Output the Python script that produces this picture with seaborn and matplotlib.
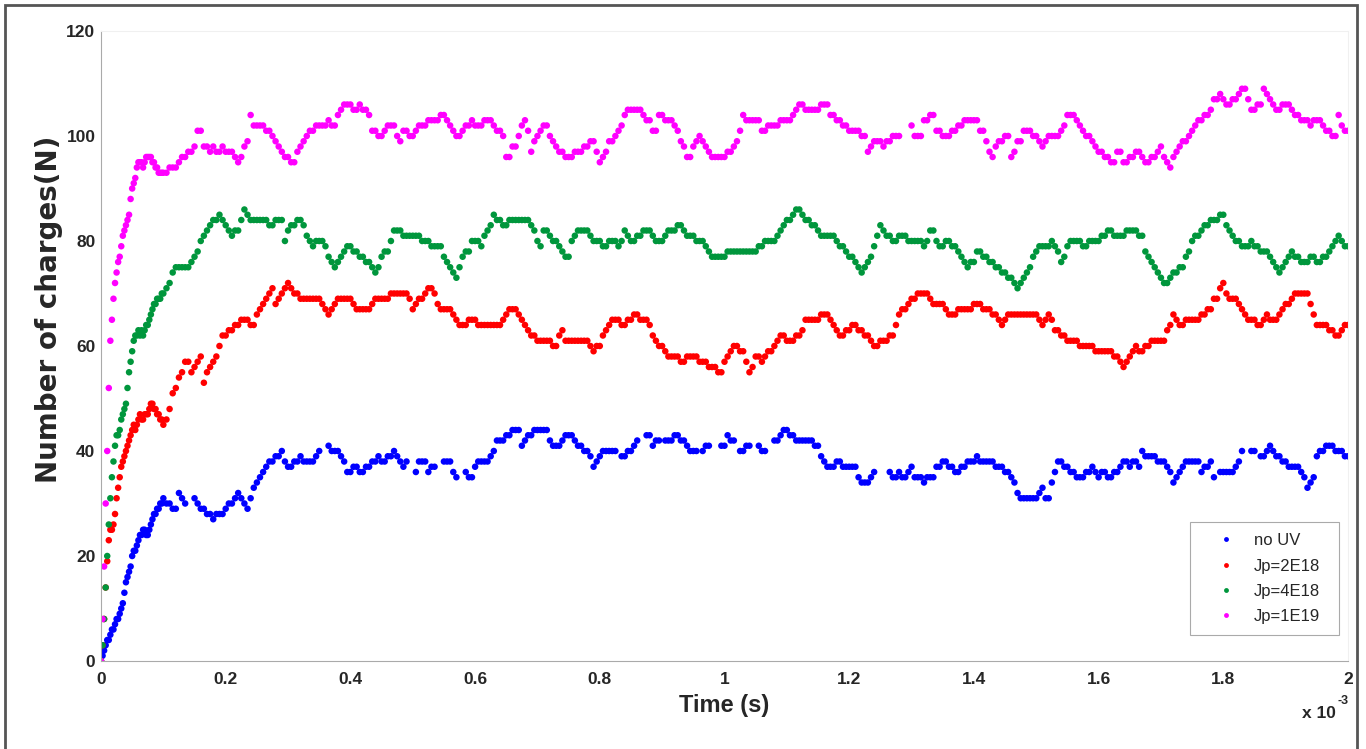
import numpy as np
import pandas as pd
import matplotlib
matplotlib.use("Agg")
import matplotlib.pyplot as plt
from matplotlib.patches import Rectangle
from matplotlib.lines import Line2D
import seaborn as sns

nan = np.nan

# time grid in ms: 0.0025 ms steps during the first rise, then 0.005 ms
time_ms = np.r_[np.arange(40) * 0.0025, 0.1 + np.arange(381) * 0.005]

# values (nan = no dot there)
no_uv = [
    # 0 - 0.0975 ms
    0, 1, 2, 3, 4, 4, 5, 6, 6, 7,
    8, 8, 9, 10, 11, 13, 15, 16, 17, 18,
    20, 21, 21, 22, 23, 24, 24, 25, 25, 24,
    24, 25, 26, 27, 28, 28, 29, 29, 30, 30,
    # 0.1 - 2.0 ms
    31, 30, 30, 29, 29, 32, 31, 30, nan, nan,
    31, 30, 29, 29, 28, 28, 27, 28, 28, 28,
    29, 30, 30, 31, 32, 31, 30, 29, 31, 33,
    34, 35, 36, 37, 38, 38, 39, 39, 40, 38,
    37, 37, 38, 38, 39, 38, 38, 38, 38, 39,
    40, nan, nan, 41, 40, 40, 40, 39, 38, 36,
    36, 37, 37, 36, 36, 37, 37, 38, 38, 39,
    38, 38, 39, 39, 40, 39, 38, 37, 38, nan,
    nan, 36, 38, 38, 38, 36, 37, 37, nan, nan,
    38, 38, 38, 36, 35, nan, nan, 36, 35, 35,
    37, 38, 38, 38, 38, 39, 40, 42, 42, 42,
    43, 43, 44, 44, 44, 41, 42, 43, 43, 44,
    44, 44, 44, 44, 42, 41, 41, 41, 42, 43,
    43, 43, 42, 41, 41, 40, 40, 39, 37, 38,
    39, 40, 40, 40, 40, 40, nan, 39, 39, 40,
    40, 41, 42, nan, nan, 43, 43, 41, 42, 42,
    nan, 42, 42, 42, 43, 43, 42, 42, 41, 40,
    40, 40, nan, 40, 41, 41, nan, nan, nan, 41,
    41, 43, 42, 42, nan, 40, 40, 41, 41, nan,
    nan, 41, 40, 40, nan, nan, 42, 42, 43, 44,
    44, 43, 43, 42, 42, 42, 42, 42, 42, 41,
    41, 39, 38, 37, 37, 37, 38, 38, 37, 37,
    37, 37, 37, 35, 34, 34, 34, 35, 36, nan,
    nan, nan, nan, 36, 35, 35, 36, 35, 35, 36,
    37, 35, 35, 35, 34, 35, 35, 35, 37, 37,
    38, 38, 37, 37, 36, 36, 37, 37, 38, 38,
    38, 39, 38, 38, 38, 38, 38, 37, 37, 37,
    36, 36, 35, 34, 32, 31, 31, 31, 31, 31,
    31, 32, 33, 31, 31, 34, 36, 38, 38, 37,
    37, 36, 36, 35, 35, 35, 36, 36, 37, 36,
    35, 36, 36, 35, 35, 36, 36, 37, 38, 38,
    37, 38, 38, 37, 40, 39, 39, 39, 39, 38,
    38, 38, 37, 36, 34, 35, 36, 37, 38, 38,
    38, 38, 38, 36, 37, 37, 38, 35, nan, 36,
    36, 36, 36, 36, 37, 38, 40, nan, nan, 40,
    40, nan, 39, 39, 40, 41, 40, 39, 39, 38,
    38, 37, 37, 37, 37, 36, 35, 33, 34, 35,
    39, 40, 40, 41, 41, 41, 40, 40, 40, 39,
    39,
]
jp_2e18 = [
    0, 3, 8, 14, 19, 23, 25, 25, 26, 28,
    31, 33, 35, 37, 38, 39, 40, 41, 42, 43,
    44, 45, 44, 45, 46, 47, 46, 46, 47, 47,
    47, 48, 49, 49, 48, 48, 47, 47, 46, 46,
    45, 46, 48, 51, 52, 54, 55, 57, 57, 55,
    56, 57, 58, 53, 55, 56, 57, 58, 60, 62,
    62, 63, 63, 64, 64, 65, 65, 65, 64, 64,
    66, 67, 68, 69, 70, 71, 68, 69, 70, 71,
    72, 71, 70, 70, 69, 69, 69, 69, 69, 69,
    69, 68, 67, 66, 67, 68, 69, 69, 69, 69,
    69, 68, 67, 67, 67, 67, 67, 68, 69, 69,
    69, 69, 69, 70, 70, 70, 70, 70, 70, 69,
    67, 68, 69, 69, 70, 71, 71, 70, 68, 67,
    67, 67, 67, 66, 65, 64, 64, 64, 65, 65,
    65, 64, 64, 64, 64, 64, 64, 64, 64, 65,
    66, 67, 67, 67, 66, 65, 64, 63, 62, 62,
    61, 61, 61, 61, 61, 60, 60, 62, 63, 61,
    61, 61, 61, 61, 61, 61, 61, 60, 59, 60,
    60, 62, 63, 64, 65, 65, 65, 64, 64, 65,
    65, 66, 66, 65, 65, 65, 64, 62, 61, 60,
    60, 59, 58, 58, 58, 58, 57, 57, 58, 58,
    58, 58, 57, 57, 57, 56, 56, 56, 55, 55,
    57, 58, 59, 60, 60, 59, 59, 57, 55, 56,
    58, 58, 57, 58, 59, 59, 60, 61, 62, 62,
    61, 61, 61, 62, 62, 63, 65, 65, 65, 65,
    65, 66, 66, 66, 65, 64, 63, 62, 62, 63,
    63, 64, 64, 63, 63, 62, 62, 61, 60, 60,
    61, 61, 61, 62, 62, 64, 66, 67, 67, 68,
    69, 69, 70, 70, 70, 70, 69, 68, 68, 68,
    68, 67, 66, 66, 66, 67, 67, 67, 67, 67,
    68, 68, 68, 67, 67, 67, 66, 66, 65, 64,
    65, 66, 66, 66, 66, 66, 66, 66, 66, 66,
    66, 65, 64, 65, 66, 65, 63, 63, 62, 62,
    61, 61, 61, 61, 60, 60, 60, 60, 60, 59,
    59, 59, 59, 59, 59, 58, 58, 57, 56, 57,
    58, 59, 60, 59, 59, 60, 60, 61, 61, 61,
    61, 61, 63, 64, 66, 65, 64, 64, 65, 65,
    65, 65, 65, 66, 66, 67, 67, 69, 69, 71,
    72, 70, 69, 69, 69, 68, 67, 66, 65, 65,
    65, 64, 64, 65, 66, 65, 65, 65, 66, 67,
    68, 68, 69, 70, 70, 70, 70, 70, 68, 66,
    64, 64, 64, 64, 63, 63, 62, 62, 63, 64,
    64,
]
jp_4e18 = [
    0, 3, 8, 14, 20, 26, 31, 35, 38, 41,
    43, 43, 44, 46, 47, 48, 49, 52, 55, 57,
    59, 61, 62, 62, 63, 62, 63, 62, 63, 64,
    64, 65, 66, 67, 68, 68, 69, 69, 69, 70,
    70, 71, 72, 74, 75, 75, 75, 75, 75, 76,
    77, 78, 80, 81, 82, 83, 84, 84, 85, 84,
    83, 82, 81, 82, 82, 84, 86, 85, 84, 84,
    84, 84, 84, 84, 83, 83, 84, 84, 84, 80,
    82, 83, 83, 84, 84, 83, 81, 80, 79, 80,
    80, 80, 79, 77, 76, 75, 76, 77, 78, 79,
    79, 78, 78, 77, 77, 76, 76, 75, 74, 75,
    77, 78, 78, 80, 82, 82, 82, 81, 81, 81,
    81, 81, 81, 80, 80, 80, 79, 79, 79, 79,
    77, 76, 75, 74, 73, 75, 77, 78, 78, 80,
    80, 80, 79, 81, 82, 83, 85, 84, 84, 83,
    83, 84, 84, 84, 84, 84, 84, 84, 83, 82,
    80, 79, 82, 82, 81, 80, 80, 79, 78, 77,
    77, 80, 81, 82, 82, 82, 82, 81, 80, 80,
    80, 79, 79, 80, 80, 80, 79, 80, 82, 81,
    80, 80, 81, 81, 82, 82, 82, 81, 80, 80,
    80, 81, 82, 82, 82, 83, 83, 82, 81, 81,
    81, 80, 80, 80, 79, 78, 77, 77, 77, 77,
    77, 78, 78, 78, 78, 78, 78, 78, 78, 78,
    78, 79, 79, 80, 80, 80, 80, 81, 82, 83,
    84, 84, 85, 86, 86, 85, 84, 84, 83, 83,
    82, 81, 81, 81, 81, 81, 80, 79, 79, 78,
    77, 77, 76, 75, 74, 75, 76, 77, 79, 81,
    83, 82, 81, 81, 80, 80, 81, 81, 81, 80,
    80, 80, 80, 80, 79, 80, 82, 82, 80, 79,
    79, 80, 80, 79, 79, 78, 77, 76, 75, 76,
    76, 78, 78, 77, 77, 76, 76, 75, 75, 74,
    74, 73, 73, 72, 71, 72, 73, 74, 75, 77,
    78, 79, 79, 79, 79, 80, 79, 78, 76, 77,
    79, 80, 80, 80, 80, 79, 79, 80, 80, 80,
    80, 81, 81, 82, 82, 81, 81, 81, 81, 82,
    82, 82, 82, 81, 81, 78, 77, 76, 75, 74,
    73, 72, 72, 73, 74, 74, 75, 75, 77, 78,
    80, 81, 81, 82, 83, 83, 84, 84, 84, 85,
    85, 83, 82, 81, 80, 80, 79, 79, 79, 80,
    79, 79, 78, 78, 78, 77, 76, 75, 74, 75,
    76, 77, 78, 77, 77, 76, 76, 76, 77, 77,
    76, 76, 77, 77, 78, 79, 80, 81, 80, 79,
    79,
]
jp_1e19 = [
    0, 8, 18, 30, 40, 52, 61, 65, 69, 72,
    74, 76, 77, 79, 81, 82, 83, 84, 85, 88,
    90, 91, 92, 94, 95, 95, 95, 94, 95, 96,
    96, 96, 96, 95, 95, 94, 94, 93, 93, 93,
    93, 93, 94, 94, 94, 95, 96, 96, 97, 97,
    98, 101, 101, 98, 98, 97, 98, 97, 97, 98,
    97, 97, 97, 96, 95, 96, 98, 99, 104, 102,
    102, 102, 102, 101, 101, 100, 99, 98, 97, 96,
    96, 95, 95, 97, 98, 99, 100, 101, 101, 102,
    102, 102, 102, 103, 102, 102, 104, 105, 106, 106,
    106, 105, 105, 106, 105, 105, 104, 101, 101, 100,
    100, 101, 102, 102, 102, 100, 99, 101, 101, 100,
    100, 101, 102, 102, 102, 103, 103, 103, 103, 104,
    104, 103, 102, 101, 100, 100, 101, 102, 102, 103,
    102, 102, 102, 103, 103, 103, 102, 101, 101, 100,
    96, 96, 98, 98, 100, 102, 103, 101, 97, 99,
    100, 101, 102, 102, 100, 99, 98, 97, 97, 96,
    96, 96, 97, 97, 97, 98, 98, 99, 99, 97,
    95, 96, 97, 99, 99, 100, 101, 102, 104, 105,
    105, 105, 105, 105, 104, 103, 103, 101, 101, 104,
    104, 103, 103, 103, 102, 101, 99, 98, 96, 96,
    98, 99, 100, 99, 98, 97, 96, 96, 96, 96,
    96, 97, 97, 98, 99, 101, 104, 103, 103, 103,
    103, 103, 101, 101, 102, 102, 102, 102, 103, 103,
    103, 103, 104, 105, 106, 106, 105, 105, 105, 105,
    105, 106, 106, 106, 104, 104, 103, 103, 102, 102,
    101, 101, 101, 101, 100, 100, 97, 98, 99, 99,
    99, 98, 99, 99, 100, 100, 100, nan, nan, nan,
    102, 100, 100, 100, 103, 103, 104, 104, 101, 101,
    100, 100, 100, 101, 101, 102, 102, 103, 103, 103,
    103, 103, 101, 101, 99, 97, 96, 98, 99, 99,
    100, 100, 96, 97, 99, 99, 101, 101, 101, 100,
    100, 99, 98, 99, 100, 100, 100, 100, 101, 102,
    104, 104, 104, 103, 102, 101, 100, 100, 99, 98,
    97, 97, 96, 96, 95, 95, 97, 97, 95, 95,
    96, 96, 97, 97, 96, 95, 95, 96, 96, 97,
    98, 96, 95, 94, 96, 97, 98, 99, 99, 100,
    101, 102, 103, 103, 104, 104, 105, 107, 107, 108,
    107, 106, 106, 107, 107, 108, 109, 109, 107, 105,
    105, 106, 106, 109, 108, 107, 106, 105, 105, 106,
    106, 106, 105, 104, 104, 103, 103, 103, 102, 103,
    103, 103, 102, 101, 101, 100, 100, 104, 102, 101,
    101,
]

labels = ["no UV", "Jp=2E18", "Jp=4E18", "Jp=1E19"]
colors = ["#0000ff", "#ff0000", "#00963c", "#ff00ff"]
xtick_ms = [0, 0.2, 0.4, 0.6, 0.8, 1, 1.2, 1.4, 1.6, 1.8, 2]
xtick_labels = ["0", "0.2", "0.4", "0.6", "0.8", "1", "1.2", "1.4", "1.6", "1.8", "2"]
yticks = [0, 20, 40, 60, 80, 100, 120]

frames = []
for lab, vals in zip(labels, [no_uv, jp_2e18, jp_4e18, jp_1e19]):
    frames.append(pd.DataFrame({"time": time_ms * 1e-3, "N": vals, "series": lab}))
df = pd.concat(frames, ignore_index=True).dropna()

sns.set_style("white")
plt.rcParams["font.family"] = ["Liberation Sans", "DejaVu Sans"]

fig = plt.figure(figsize=(13.66, 7.49), dpi=100)
ax = fig.add_axes([101 / 1366, 88 / 749, 1247 / 1366, 630 / 749])

sns.scatterplot(data=df, x="time", y="N", hue="series", hue_order=labels,
                palette=dict(zip(labels, colors)), s=22, linewidth=0,
                legend=False, ax=ax)

ax.set_xlim(0, 2e-3)
ax.set_ylim(0, 120)
ax.set_xticks(np.array(xtick_ms) * 1e-3)
ax.set_xticklabels(xtick_labels)
ax.set_yticks(yticks)
ax.tick_params(direction="in", length=11, width=0.8, color="#999999",
               labelsize=12.5)
ax.tick_params(axis="x", pad=8)
ax.tick_params(axis="y", pad=4)
for t in ax.get_xticklabels() + ax.get_yticklabels():
    t.set_fontweight("bold")
for side in ["left", "bottom"]:
    ax.spines[side].set_color("#aaaaaa")
for side in ["top", "right"]:
    ax.spines[side].set_color("#f0f0f0")

ax.set_xlabel("Time (s)", fontsize=17, fontweight="bold", labelpad=5)
ax.set_ylabel("Number of charges(N)", fontsize=20, fontweight="bold",
              family=["DejaVu Sans"])
ax.yaxis.set_label_coords(-0.0305, 0.559)

fig.text(1302 / 1366, 1 - 718 / 749, "x 10", fontsize=12.5, fontweight="bold")
fig.text(1338 / 1366, 1 - 704 / 749, "-3", fontsize=9, fontweight="bold")

handles = [Line2D([], [], ls="", marker="o", markersize=3.5, mew=0, color=c) for c in colors]
leg = ax.legend(handles, labels, loc="lower left",
                bbox_to_anchor=((1190 - 101) / 1247, (661 - 635) / 630, 149 / 1247, 116 / 630),
                mode="expand", borderaxespad=0, frameon=True, fancybox=False,
                fontsize=12, edgecolor="#aaaaaa", framealpha=1, handlelength=3,
                handletextpad=0.2, labelspacing=0.62, borderpad=0.65)
leg.get_frame().set_linewidth(0.8)

fig.patches.append(Rectangle((5 / 1366, -0.05), 1352 / 1366, 1.05 - 5 / 749,
                             transform=fig.transFigure, fill=False,
                             edgecolor="#555555", linewidth=2))

fig.savefig("out.png", dpi=100)
